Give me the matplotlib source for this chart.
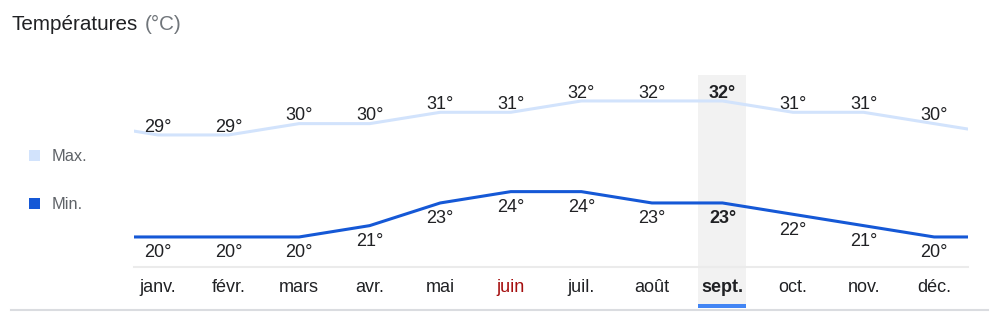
import numpy as np
import matplotlib
matplotlib.use("Agg")
import matplotlib.pyplot as plt
import matplotlib.transforms as mtransforms
from matplotlib.patches import Rectangle
from matplotlib.lines import Line2D

plt.rcParams['font.family'] = ['Liberation Sans', 'DejaVu Sans']

# data
months = ['janv.', 'févr.', 'mars', 'avr.', 'mai', 'juin',
          'juil.', 'août', 'sept.', 'oct.', 'nov.', 'déc.']
tmax = [29, 29, 30, 30, 31, 31, 32, 32, 32, 31, 31, 30]
tmin = [20, 20, 20, 21, 23, 24, 24, 23, 23, 22, 21, 20]
selected = 8  # sept.
red_month = 5  # juin

W, H = 994, 314
fig = plt.figure(figsize=(W / 100, H / 100), dpi=100)


def fy(p):
    # pixel row -> figure fraction
    return 1 - p / H


def fx(p):
    return p / W


# chart area: px 134..968 horizontally, 75..267 vertically
ax = fig.add_axes([fx(134), fy(267), fx(968 - 134), (267 - 75) / H])
ax.set_xlim(-0.34, 11.48)
ax.set_ylim(17.35, 34.29)
ax.set_xticks([])
ax.set_yticks([])
for s in ['top', 'left', 'right']:
    ax.spines[s].set_visible(False)
ax.spines['bottom'].set_color('#ebebeb')
ax.spines['bottom'].set_linewidth(1.5)
ax.spines['bottom'].set_zorder(1)
ax.patch.set_alpha(0)

# wrap around so the lines run out to the edges
xs = np.arange(-1, 13)
ymax_wrap = [tmax[-1]] + tmax + [tmax[0]]
ymin_wrap = [tmin[-1]] + tmin + [tmin[0]]

maxColor = '#d2e3fc'
minColor = '#1558d6'

# highlighted month column
ax.axvspan(selected - 0.34, selected + 0.34, ymin=-0.193, ymax=1,
           color='#f2f2f2', zorder=0, clip_on=False, lw=0)
ax.add_patch(Rectangle((selected - 0.34, -0.2135), 0.68, 0.0205,
                       transform=mtransforms.blended_transform_factory(ax.transData, ax.transAxes),
                       color='#4285f4', lw=0, clip_on=False, zorder=2))

ax.plot(xs, ymax_wrap, color=maxColor, lw=2.2, zorder=3, solid_joinstyle='round')
ax.plot(xs, ymin_wrap, color=minColor, lw=2.2, zorder=3, solid_joinstyle='round')

textColor = '#202124'
fs = 13
for i in range(12):
    weight = 'bold' if i == selected else 'normal'
    ax.annotate(f'{tmax[i]}°', (i, tmax[i]), xytext=(0, 2.4), textcoords='offset points',
                ha='center', va='baseline', fontsize=fs, color=textColor,
                fontweight=weight, zorder=4)
    ax.annotate(f'{tmin[i]}°', (i, tmin[i]), xytext=(0, -14.6), textcoords='offset points',
                ha='center', va='baseline', fontsize=fs, color=textColor,
                fontweight=weight, zorder=4)

# month labels
trans = mtransforms.blended_transform_factory(ax.transData, fig.transFigure)
for i, m in enumerate(months):
    col = textColor
    if i == red_month:
        col = '#a50e0e'
    weight = 'bold' if i == selected else 'normal'
    ax.text(i, fy(292), m, transform=trans, ha='center', va='baseline',
            fontsize=fs, color=col, fontweight=weight, zorder=4)

# title
fig.text(fx(12), fy(29.5), 'Températures', fontsize=14.9, color='#202124', va='baseline')
fig.text(fx(145), fy(29.5), '(°C)', fontsize=14.9, color='#70757a', va='baseline')

# legend
fig.patches.append(Rectangle((fx(29), fy(161)), fx(11), 11 / H, transform=fig.transFigure,
                             color=maxColor, lw=0))
fig.patches.append(Rectangle((fx(29), fy(209)), fx(11), 11 / H, transform=fig.transFigure,
                             color=minColor, lw=0))
fig.text(fx(52), fy(161), 'Max.', fontsize=11.8, color='#5f6368', va='baseline')
fig.text(fx(52), fy(209), 'Min.', fontsize=11.8, color='#5f6368', va='baseline')

# bottom rule
fig.lines.append(Line2D([fx(11), fx(988)], [fy(310), fy(310)], transform=fig.transFigure,
                        color='#dadce0', lw=1.5))

fig.savefig('out.png', dpi=100)
